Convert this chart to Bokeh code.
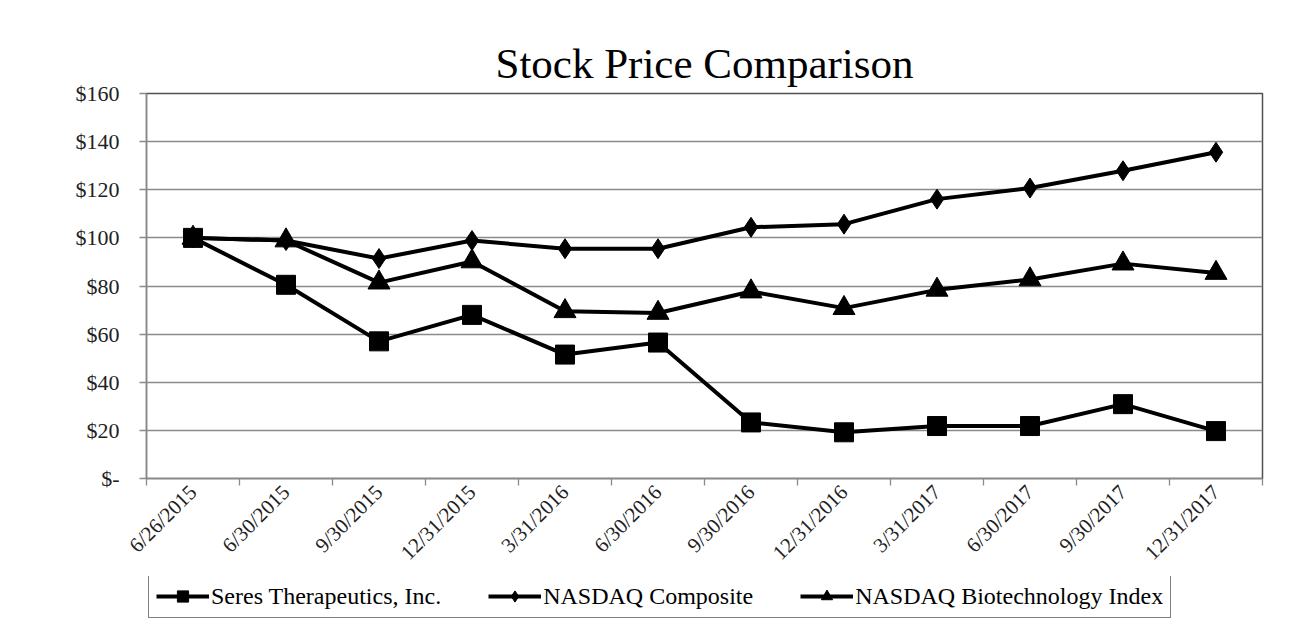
from bokeh.plotting import figure
from bokeh.models import Legend, LegendItem, FixedTicker, CustomJSTickFormatter, Range1d
from bokeh.layouts import column
from bokeh.embed import file_html
from bokeh.resources import INLINE
import math

# ---- data ----
dates = ["6/26/2015", "6/30/2015", "9/30/2015", "12/31/2015", "3/31/2016", "6/30/2016",
         "9/30/2016", "12/31/2016", "3/31/2017", "6/30/2017", "9/30/2017", "12/31/2017"]
seres = [100, 80.5, 57, 68, 51.5, 56.5, 23.3, 19.2, 21.8, 21.8, 30.9, 19.7]
nasdaq = [100, 98.9, 91.4, 98.9, 95.5, 95.5, 104.4, 105.7, 116.1, 120.7, 127.9, 135.6]
biotech = [100, 98.9, 81.4, 90.2, 69.5, 68.8, 77.7, 70.8, 78.4, 82.7, 89.3, 85.4]
y_ticks = [0, 20, 40, 60, 80, 100, 120, 140, 160]
y_tick_labels = ["$-", "$20", "$40", "$60", "$80", "$100", "$120", "$140", "$160"]
title_text = "Stock Price Comparison"
series_names = ["Seres Therapeutics, Inc.", "NASDAQ Composite", "NASDAQ Biotechnology Index"]

FONT = "Liberation Serif"
GRID = "#8a8a8a"

xs = [i + 0.5 for i in range(len(dates))]
boundaries = list(range(len(dates) + 1))

# ---- main chart ----
p = figure(width=1290, height=576, output_backend="svg", toolbar_location=None,
           x_range=Range1d(0, len(dates)), y_range=Range1d(y_ticks[0], y_ticks[-1]),
           min_border_left=146, min_border_right=28, min_border_top=93, min_border_bottom=91,
           background_fill_color="white", border_fill_color="white",
           title=title_text)

p.title.align = "center"
p.title.offset = -36
p.title.standoff = 14
p.title.text_font = FONT
p.title.text_font_size = "43px"
p.title.text_font_style = "normal"
p.title.text_color = "black"

p.outline_line_color = "#505050"
p.outline_line_width = 1.5

p.xgrid.visible = False
p.ygrid.ticker = FixedTicker(ticks=y_ticks)
p.ygrid.grid_line_color = GRID
p.ygrid.grid_line_width = 1.3

ya = p.yaxis[0]
ya.ticker = FixedTicker(ticks=y_ticks)
ya.formatter = CustomJSTickFormatter(args=dict(yvals=y_ticks, ylabs=y_tick_labels),
                                     code="const i = yvals.indexOf(tick); return i >= 0 ? ylabs[i] : '';")
ya.axis_line_color = GRID
ya.axis_line_width = 1.3
ya.major_tick_line_color = GRID
ya.major_tick_line_width = 1.3
ya.major_tick_out = 7
ya.major_tick_in = 0
ya.minor_tick_line_color = None
ya.major_label_standoff = 20
ya.major_label_text_font = FONT
ya.major_label_text_font_size = "22px"
ya.major_label_text_color = "#222222"

xa = p.xaxis[0]
xa.ticker = FixedTicker(ticks=xs, minor_ticks=boundaries)
xa.formatter = CustomJSTickFormatter(args=dict(xlabs=dates),
                                     code="return xlabs[Math.round(tick - 0.5)];")
xa.axis_line_color = GRID
xa.axis_line_width = 1.3
xa.major_tick_out = 0
xa.major_tick_in = 0
xa.major_tick_line_color = None
xa.minor_tick_line_color = GRID
xa.minor_tick_line_width = 1.3
xa.minor_tick_out = 7
xa.minor_tick_in = 0
xa.major_label_orientation = math.pi / 4
xa.major_label_standoff = 3
xa.major_label_text_font = FONT
xa.major_label_text_font_size = "21px"
xa.major_label_text_color = "#222222"

LW = 4
p.line(xs, nasdaq, line_color="black", line_width=LW)
p.scatter(xs, nasdaq, marker="diamond", size=20, color="black")
p.line(xs, biotech, line_color="black", line_width=LW)
p.scatter(xs, biotech, marker="triangle", size=22, color="black")
p.line(xs, seres, line_color="black", line_width=LW)
p.scatter(xs, seres, marker="square", size=19, color="black")

# ---- legend strip below the chart ----
p2 = figure(width=1290, height=46, output_backend="svg", toolbar_location=None,
            x_range=Range1d(0, len(dates)), y_range=Range1d(1000, 1001),
            x_axis_location=None, y_axis_location=None, title=None, min_border=0,
            background_fill_color="white", border_fill_color="white")
p2.outline_line_color = None
p2.grid.visible = False

l_sl = p2.line(xs, seres, line_color="black", line_width=LW)
l_ss = p2.scatter(xs, seres, marker="square", size=19, color="black")
l_nl = p2.line(xs, nasdaq, line_color="black", line_width=LW)
l_ns = p2.scatter(xs, nasdaq, marker="diamond", size=20, color="black")
l_bl = p2.line(xs, biotech, line_color="black", line_width=LW)
l_bs = p2.scatter(xs, biotech, marker="triangle", size=22, color="black")

legend = Legend(items=[LegendItem(label=series_names[0], renderers=[l_sl, l_ss]),
                       LegendItem(label=series_names[1], renderers=[l_nl, l_ns]),
                       LegendItem(label=series_names[2], renderers=[l_bl, l_bs])],
                location=(2, 4), orientation="horizontal",
                border_line_color="black", border_line_width=1.8,
                background_fill_color="white", background_fill_alpha=1,
                padding=7, margin=0, spacing=47, glyph_width=53, glyph_height=28,
                label_height=28, label_standoff=2,
                label_text_font=FONT, label_text_font_size="24px", label_text_color="black")
p2.add_layout(legend, "center")

layout = column(p, p2, spacing=0)
open("out.html", "w").write(file_html(layout, INLINE))
